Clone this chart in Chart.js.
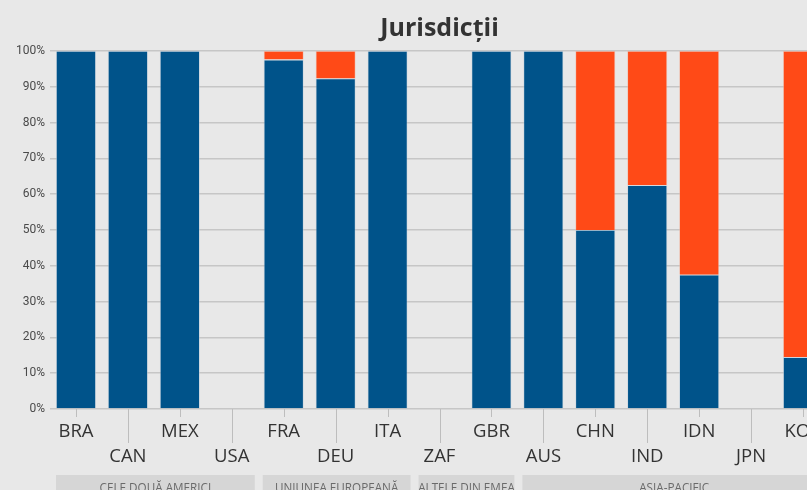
<!DOCTYPE html>
<html lang="ro">
<head>
<meta charset="utf-8">
<title>Jurisdicții</title>
<script src="https://cdn.jsdelivr.net/npm/chart.js@4/dist/chart.umd.min.js"></script>
<style>
  html, body {
    margin: 0;
    padding: 0;
    background: #e8e8e8;
    overflow: hidden;
  }
  #chart-jurisdictii {
    display: block;
  }
</style>
</head>
<body>
<canvas id="chart-jurisdictii" width="879" height="500"></canvas>
<script>
const jurisdictii = [
  "BRA", "CAN", "MEX", "USA",
  "FRA", "DEU", "ITA",
  "ZAF", "GBR",
  "AUS", "CHN", "IND", "IDN", "JPN", "KOR",
];

// procente (0 la ambele = fără date)
const pondereAlbastru = [100, 100, 100, 0, 97.6, 92.3, 100, 0, 100, 100, 50, 62.5, 37.5, 0, 14.5];
const pondereOrange = [0, 0, 0, 0, 2.4, 7.7, 0, 0, 0, 0, 50, 37.5, 62.5, 0, 85.5];

const yTicks = [0, 10, 20, 30, 40, 50, 60, 70, 80, 90, 100];

// grupe regionale: eticheta, prima și ultima jurisdicție
const grupe = [
  { label: "CELE DOUĂ AMERICI", from: 0, to: 3 },
  { label: "UNIUNEA EUROPEANĂ", from: 4, to: 6 },
  { label: "ALTELE DIN EMEA", from: 7, to: 8 },
  { label: "ASIA-PACIFIC", from: 9, to: 14 },
];

const culori = {
  albastru: "#00538a",
  orange: "#ff4a17",
  grid: "#c6c6c6",
  tick: "#bdbdbd",
  grupa: "#d6d6d6",
};

// liniuțe scurte/lungi sub axă + casetele regiunilor
const axaRegiuni = {
  id: "axaRegiuni",
  afterDraw(chart) {
    const { ctx, chartArea, scales } = chart;
    const x = scales.x;
    const step = x.getPixelForValue(1) - x.getPixelForValue(0);

    ctx.save();
    ctx.strokeStyle = culori.tick;
    ctx.lineWidth = 1;
    jurisdictii.forEach((_, i) => {
      const px = Math.round(x.getPixelForValue(i)) + 0.5;
      ctx.beginPath();
      ctx.moveTo(px, chartArea.bottom);
      ctx.lineTo(px, chartArea.bottom + (i % 2 === 0 ? 8 : 34));
      ctx.stroke();
    });

    const top = chartArea.bottom + 66;
    grupe.forEach((g, i) => {
      const left = x.getPixelForValue(g.from) - step / 2 + (i === 0 ? 6 : 5);
      const right = x.getPixelForValue(g.to) + step / 2 - 3;
      ctx.fillStyle = culori.grupa;
      ctx.fillRect(left, top, right - left, 30);

      // text ușor îngustat, ca fontul condensat al etichetelor
      ctx.save();
      ctx.translate((left + right) / 2, top + 13);
      ctx.scale(0.9, 1);
      ctx.fillStyle = "#6a6a6a";
      ctx.font = "13px 'Open Sans'";
      ctx.textAlign = "center";
      ctx.textBaseline = "middle";
      ctx.fillText(g.label, 0, 0);
      ctx.restore();
    });
    ctx.restore();
  },
};

function renderChart() {
  const canvas = document.getElementById("chart-jurisdictii");
  return new Chart(canvas, {
    type: "bar",
    data: {
      labels: jurisdictii,
      datasets: [
        {
          label: "Albastru",
          data: pondereAlbastru,
          backgroundColor: culori.albastru,
          borderColor: "rgba(190, 205, 220, 0.7)",
          borderWidth: 0.8,
          barPercentage: 0.77,
          categoryPercentage: 1,
        },
        {
          label: "Orange",
          data: pondereOrange,
          backgroundColor: culori.orange,
          borderColor: "rgba(240, 180, 160, 0.7)",
          borderWidth: 0.8,
          barPercentage: 0.77,
          categoryPercentage: 1,
        },
      ],
    },
    options: {
      responsive: false,
      animation: false,
      layout: { padding: { left: 0, right: 50, top: 0, bottom: 21 } },
      plugins: {
        legend: { display: false },
        tooltip: { enabled: false },
        title: {
          display: true,
          fullSize: false,
          text: "Jurisdicții",
          color: "#333",
          font: { family: "'Open Sans'", size: 25, weight: "bold", lineHeight: 1.2 },
          padding: { top: 14, bottom: 7 },
        },
      },
      scales: {
        x: {
          stacked: true,
          grid: { display: false, drawTicks: false },
          border: { display: false },
          ticks: {
            autoSkip: false,
            maxRotation: 0,
            minRotation: 0,
            padding: 10,
            color: "#333",
            font: { family: "'Open Sans'", size: 18.5, lineHeight: 25 / 18.5 },
            callback: (value, index) =>
              index % 2 === 0 ? [jurisdictii[index], ""] : ["", jurisdictii[index]],
          },
        },
        y: {
          stacked: true,
          min: 0,
          max: 100,
          afterFit: (scale) => {
            scale.width = 50;
          },
          afterBuildTicks: (scale) => {
            scale.ticks = yTicks.map((value) => ({ value }));
          },
          grid: { color: culori.grid, lineWidth: 1.5, drawTicks: false },
          border: { display: false },
          ticks: {
            padding: 5,
            color: "#4a4a4a",
            font: { family: "Roboto", size: 12 },
            callback: (value) => `${value}%`,
          },
        },
      },
    },
    plugins: [axaRegiuni],
  });
}

document.addEventListener("DOMContentLoaded", () => {
  renderChart();
});
</script>
</body>
</html>
